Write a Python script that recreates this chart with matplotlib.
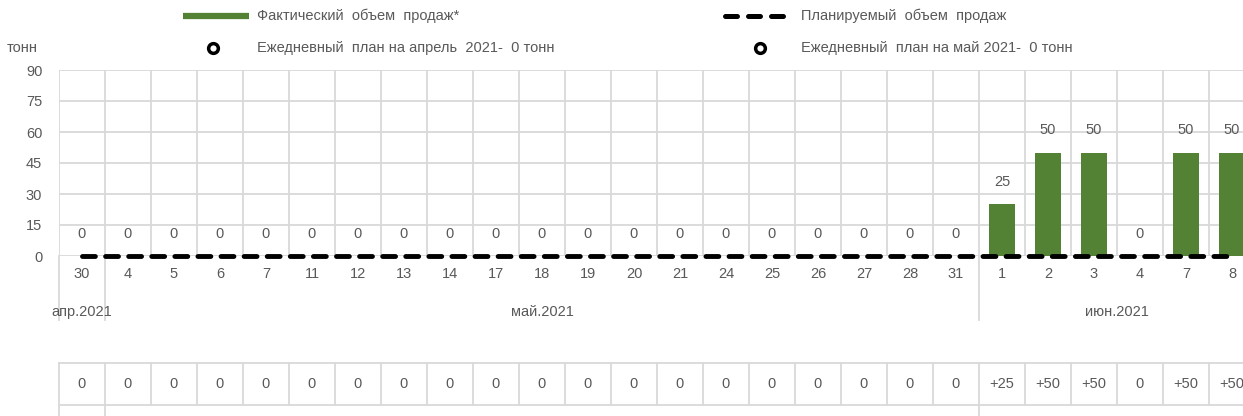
import matplotlib
matplotlib.use("Agg")
import matplotlib.pyplot as plt
from matplotlib.lines import Line2D
import numpy as np

plt.rcParams['font.family'] = ['Liberation Sans', 'DejaVu Sans']

# data
days = ['30', '4', '5', '6', '7', '11', '12', '13', '14', '17', '18', '19', '20',
        '21', '24', '25', '26', '27', '28', '31', '1', '2', '3', '4', '7', '8']
months = ['апр.2021', 'май.2021', 'июн.2021']
month_sizes = [1, 19, 6]
actual = [0, 0, 0, 0, 0, 0, 0, 0, 0, 0, 0, 0, 0, 0, 0, 0, 0, 0, 0, 0,
          25, 50, 50, 0, 50, 50]
planned = [0] * len(days)
yticks = [0, 15, 30, 45, 60, 75, 90]

green = '#548235'
grey_txt = '#595959'
grid_c = '#d9d9d9'
fs = 10.5
W, H = 1243, 416

fig = plt.figure(figsize=(W / 100, H / 100), dpi=100)

x0, x1 = 59, 1255
ax = fig.add_axes([x0 / W, (H - 256) / H, (x1 - x0) / W, (256 - 70) / H])
x = np.arange(len(days))
ax.bar(x, actual, width=0.58, color=green, zorder=3)
ax.plot(x, planned, color='black', lw=3.5, linestyle=(0, (2.65, 2.1)),
        dash_capstyle='round', zorder=4, clip_on=False)
for xi, v in zip(x, actual):
    ax.annotate(str(v), (xi, v), xytext=(0, 11), textcoords='offset points',
                ha='center', va='bottom', fontsize=fs, color=grey_txt)

ax.set_xlim(-0.5, len(days) - 0.5)
ax.set_ylim(0, 90)
ax.set_yticks(yticks)
ax.set_xticks(x)
ax.set_xticklabels(days)
ax.tick_params(axis='both', length=0, labelsize=fs, colors=grey_txt)
ax.tick_params(axis='x', pad=8)
ax.tick_params(axis='y', pad=12)
for s in ax.spines.values():
    s.set_visible(False)
ax.grid(False)
for yv in yticks:
    ax.axhline(yv, color=grid_c, lw=1.3, zorder=1)
for b in np.arange(-0.5, len(days), 1.0):
    ax.axvline(b, color=grid_c, lw=1.3, zorder=1)
ax.text(-0.031, 1.12, 'тонн', transform=ax.transAxes, ha='center', va='center',
        fontsize=fs, color=grey_txt)

# month separators and labels below the axis
start = 0
for name, n in zip(months, month_sizes):
    ax.annotate(name, ((start + (start + n - 1)) / 2, 0), xycoords='data',
                xytext=(0, -40), textcoords='offset points', ha='center',
                va='center', fontsize=fs, color=grey_txt, annotation_clip=False)
    start += n
seps = np.cumsum([0] + month_sizes)[:-1] - 0.5
for sx in seps:
    ax.add_line(Line2D([sx, sx], [0, -31], color=grid_c, lw=1.3, clip_on=False))

# overlay in pixel coordinates for legend and table
ov = fig.add_axes([0, 0, 1, 1])
ov.set_xlim(0, W)
ov.set_ylim(H, 0)
ov.axis('off')
cw = (x1 - x0) / len(days)

# legend
ov.plot([183, 249], [16, 16], color=green, lw=4.5, solid_capstyle='butt')
ov.text(257, 16, 'Фактический  объем  продаж*', va='center', fontsize=fs, color=grey_txt)
ov.plot([725.5, 784.5], [16, 16], color='black', lw=3.6, linestyle=(0, (2.4, 2.2)),
        dash_capstyle='round')
ov.text(801, 16, 'Планируемый  объем  продаж', va='center', fontsize=fs, color=grey_txt)
ov.plot([213], [48], 'o', ms=7, mfc='white', mec='black', mew=2.5)
ov.text(257, 48, 'Ежедневный  план на апрель  2021-  0 тонн', va='center',
        fontsize=fs, color=grey_txt)
ov.plot([760], [48], 'o', ms=7, mfc='white', mec='black', mew=2.5)
ov.text(801, 48, 'Ежедневный  план на май 2021-  0 тонн', va='center',
        fontsize=fs, color=grey_txt)

# table under the chart
t_top, t_mid = 363, 405
ov.plot([x0, W], [t_top, t_top], color=grid_c, lw=1.3)
ov.plot([x0, W], [t_mid, t_mid], color=grid_c, lw=1.3)
for i in range(len(days) + 1):
    bx = x0 + i * cw
    ov.plot([bx, bx], [t_top, t_mid], color=grid_c, lw=1.3)
for sx in seps:
    bx = x0 + (sx + 0.5) * cw
    ov.plot([bx, bx], [t_mid, H], color=grid_c, lw=1.3)
for i, v in enumerate(actual):
    lab = '+%d' % v if v > 0 else '0'
    ov.text(x0 + (i + 0.5) * cw, 384, lab, ha='center', va='center', fontsize=fs,
            color=grey_txt)

fig.savefig('out.png', dpi=100)
